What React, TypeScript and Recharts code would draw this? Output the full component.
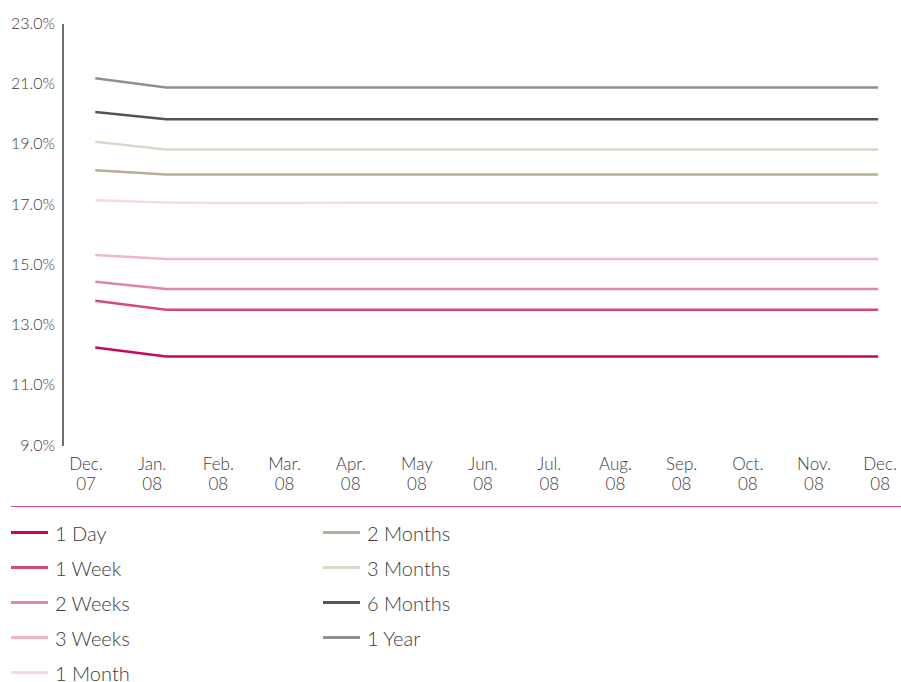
import React from 'react';
import { LineChart, Line, XAxis, YAxis, Legend } from 'recharts';

// Observation positions in months after Dec. 07
const monthPositions = [0.14, 1.21, 2, 3, 4, 5, 6, 7, 8, 9, 10, 11, 11.97];
const tickMonths = [0, 1, 2, 3, 4, 5, 6, 7, 8, 9, 10, 11, 12];
const tickLabels = [
  ['Dec.', '07'], ['Jan.', '08'], ['Feb.', '08'], ['Mar.', '08'], ['Apr.', '08'], ['May', '08'],
  ['Jun.', '08'], ['Jul.', '08'], ['Aug.', '08'], ['Sep.', '08'], ['Oct.', '08'], ['Nov.', '08'], ['Dec.', '08'],
];
const yTicks = [9, 11, 13, 15, 17, 19, 21, 23];

const oneDay = [12.27, 11.97, 11.97, 11.97, 11.97, 11.97, 11.97, 11.97, 11.97, 11.97, 11.97, 11.97, 11.97];
const oneWeek = [13.82, 13.52, 13.52, 13.52, 13.52, 13.52, 13.52, 13.52, 13.52, 13.52, 13.52, 13.52, 13.52];
const twoWeeks = [14.45, 14.21, 14.21, 14.21, 14.21, 14.21, 14.21, 14.21, 14.21, 14.21, 14.21, 14.21, 14.21];
const threeWeeks = [15.34, 15.2, 15.2, 15.2, 15.2, 15.2, 15.2, 15.2, 15.2, 15.2, 15.2, 15.2, 15.2];
const oneMonth = [17.15, 17.08, 17.06, 17.06, 17.07, 17.07, 17.07, 17.07, 17.07, 17.07, 17.07, 17.07, 17.07];
const twoMonths = [18.15, 18.01, 18.01, 18.01, 18.01, 18.01, 18.01, 18.01, 18.01, 18.01, 18.01, 18.01, 18.01];
const threeMonths = [19.09, 18.84, 18.84, 18.84, 18.84, 18.84, 18.84, 18.84, 18.84, 18.84, 18.84, 18.84, 18.84];
const sixMonths = [20.08, 19.84, 19.84, 19.84, 19.84, 19.84, 19.84, 19.84, 19.84, 19.84, 19.84, 19.84, 19.84];
const oneYear = [21.2, 20.89, 20.89, 20.89, 20.89, 20.89, 20.89, 20.89, 20.89, 20.89, 20.89, 20.89, 20.89];

const seriesNames = ['1 Day', '1 Week', '2 Weeks', '3 Weeks', '1 Month', '2 Months', '3 Months', '6 Months', '1 Year'];
const seriesValues = [oneDay, oneWeek, twoWeeks, threeWeeks, oneMonth, twoMonths, threeMonths, sixMonths, oneYear];
const seriesColors = ['#c8075a', '#d4497a', '#e0899e', '#efb8c2', '#f6dadd', '#b8ad98', '#ddd6ca', '#545454', '#909090'];

const data = monthPositions.map((m, i) => {
  const row: Record<string, number> = { m };
  seriesNames.forEach((n, k) => {
    row[n] = seriesValues[k][i];
  });
  return row;
});

const FONT = 'Lato, "Open Sans", sans-serif';
const TEXT = '#3c3c3c';

const XTick = (props: any) => {
  const { x, y, payload } = props;
  const idx = tickMonths.indexOf(payload.value);
  const lbl = tickLabels[idx] || ['', ''];
  return (
    <g>
      <text x={x} y={y + 23.5} textAnchor="middle" fontFamily={FONT} fontWeight={300} fontSize={17} fill={TEXT}>
        {lbl[0]}
      </text>
      <text x={x} y={y + 43.5} textAnchor="middle" fontFamily={FONT} fontWeight={300} fontSize={17} fill={TEXT}>
        {lbl[1]}
      </text>
    </g>
  );
};

const LegendContent = () => {
  const col1 = [0, 1, 2, 3, 4];
  const col2 = [5, 6, 7, 8];
  const item = (k: number) => (
    <div key={k} style={{ display: 'flex', alignItems: 'center', height: 35 }}>
      <div style={{ width: 37, height: 3, background: seriesColors[k], marginRight: 7 }} />
      <span style={{ fontFamily: FONT, fontWeight: 300, fontSize: 20, color: TEXT, lineHeight: '18px' }}>
        {seriesNames[k]}
      </span>
    </div>
  );
  return (
    <div style={{ borderTop: '1px solid #d6457a', paddingTop: 8, display: 'flex' }}>
      <div style={{ width: 312 }}>{col1.map(item)}</div>
      <div>{col2.map(item)}</div>
    </div>
  );
};

export default function App() {
  return (
    <div style={{ position: 'absolute', left: 0, top: 0, width: 901, height: 682, background: '#fff' }}>
      <LineChart width={901} height={682} data={data} margin={{ top: 24, right: 1, bottom: 176, left: 0 }}>
        <XAxis
          dataKey="m"
          type="number"
          domain={[-0.348, 12.3]}
          ticks={tickMonths}
          allowDataOverflow
          axisLine={false}
          tickLine={false}
          tickSize={0}
          tickMargin={0}
          height={60}
          interval={0}
          tick={<XTick />}
        />
        <YAxis
          type="number"
          domain={[9, 23]}
          ticks={yTicks}
          width={63}
          axisLine={{ stroke: '#222', strokeWidth: 1.3 }}
          tickLine={false}
          tickFormatter={(v: number) => `${v.toFixed(1)}%`}
          tick={{ fontFamily: FONT, fontWeight: 300, fontSize: 16, fill: TEXT, dy: -1 }}
        />
        {seriesNames.map((n, k) => (
          <Line
            key={n}
            dataKey={n}
            type="linear"
            stroke={seriesColors[k]}
            strokeWidth={2.5}
            dot={false}
            activeDot={false}
            isAnimationActive={false}
          />
        ))}
        <Legend
          layout="vertical"
          verticalAlign="middle"
          align="center"
          content={<LegendContent />}
          wrapperStyle={{ position: 'absolute', left: 11, top: 506, width: 890, height: 176 }}
        />
      </LineChart>
    </div>
  );
}
